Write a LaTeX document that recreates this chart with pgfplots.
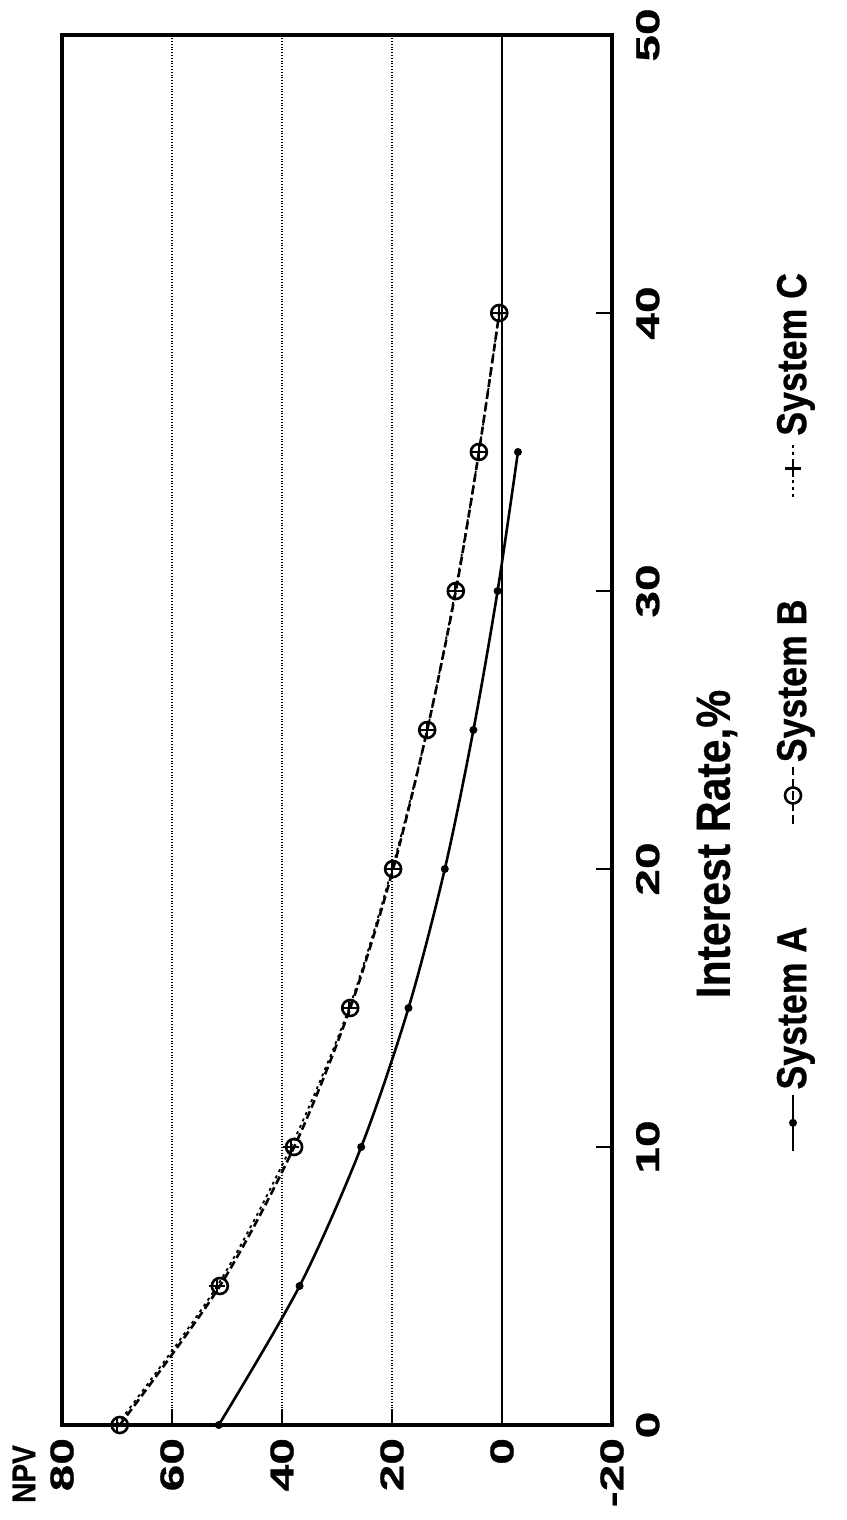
\documentclass[border=0pt]{standalone}
\usepackage{graphicx}
\usepackage{pgfplots}
\pgfplotsset{compat=1.18}
\usepackage{fontspec}
\setmainfont{Liberation Sans}
\newfontfamily\tickfont[FakeStretch=1.45, FakeBold=0.8]{Liberation Sans}
\newfontfamily\labfont[FakeStretch=0.89, FakeBold=0.5]{Liberation Sans}
\newfontfamily\legfont[FakeStretch=0.85, FakeBold=0.6]{Liberation Sans}
\begin{document}
\rotatebox{90}{%
\begin{tikzpicture}
\useasboundingbox (-47.5pt,-117pt) rectangle (712.5pt,306pt);
\begin{axis}[
  at={(0,0)}, anchor=south west,
  scale only axis, width=695pt, height=275pt,
  xmin=0, xmax=50, ymin=-20, ymax=80,
  xtick={0,10,...,50}, ytick={-20,0,...,80},
  tick pos=left, tick align=inside,
  major tick length=8pt,
  every tick/.style={black, line width=1.2pt},
  axis line style={line width=1.6pt},
  ymajorgrids,
  grid style={densely dotted, line width=0.7pt, black},
  extra y ticks={0}, extra y tick labels={},
  extra y tick style={grid=major, major grid style={solid, line width=1.3pt, black}},
  /pgf/number format/assume math mode=true,
  ticklabel style={font=\tickfont\bfseries\fontsize{16.5}{18}\selectfont},
  xticklabel style={yshift=-8.5pt},
  yticklabel style={xshift=-3pt},
  every axis x label/.style={at={(rel axis cs:0.418,0)}, anchor=north, inner sep=0pt, yshift=-42pt, font=\labfont\bfseries\fontsize{24}{28}\selectfont},
  every axis y label/.style={at={(rel axis cs:0,1)}, anchor=center, inner sep=0pt, xshift=-24.5pt, yshift=19pt, font=\legfont\bfseries\fontsize{16.5}{18}\selectfont},
  xlabel={Interest Rate,\%},
  ylabel={NPV},
  legend image code/.code={\draw[mark repeat=2, mark phase=2, #1] plot coordinates {(0pt,0pt) (14pt,0pt) (28pt,0pt)};},
  legend style={at={(rel axis cs:0.514,0)}, anchor=center, yshift=-90.5pt, draw=none, fill=none,
    font=\legfont\bfseries\fontsize{21}{24}\selectfont,
    /tikz/every even column/.append style={column sep=49pt}},
  legend columns=3,
  legend cell align=left,
]
\addplot[black, line width=1.3pt, smooth, mark=*, mark size=1.3pt]
  coordinates {(0,51.5) (5,36.8) (10,25.6) (15,17.0) (20,10.4) (25,5.2) (30,0.8) (35,-2.9)};
\addlegendentry{System A}
\addplot[black, line width=1.3pt, dash pattern=on 4pt off 2pt, smooth, mark=o, mark size=4pt, mark options={solid, line width=1.3pt}]
  coordinates {(0,69.5) (5,51.3) (10,37.8) (15,27.6) (20,19.8) (25,13.6) (30,8.4) (35,4.2) (40,0.5)};
\addlegendentry{System B}
\addplot[black, line width=0.9pt, dash pattern=on 1.5pt off 2pt, smooth, mark=+, mark size=4pt, mark options={solid, line width=1.2pt}]
  coordinates {(0,70) (5,51.8) (10,38.4) (15,27.8) (20,20) (25,13.6) (30,8.5) (35,4.2) (40,0.5)};
\addlegendentry{System C}
\end{axis}
\end{tikzpicture}%
}
\end{document}
